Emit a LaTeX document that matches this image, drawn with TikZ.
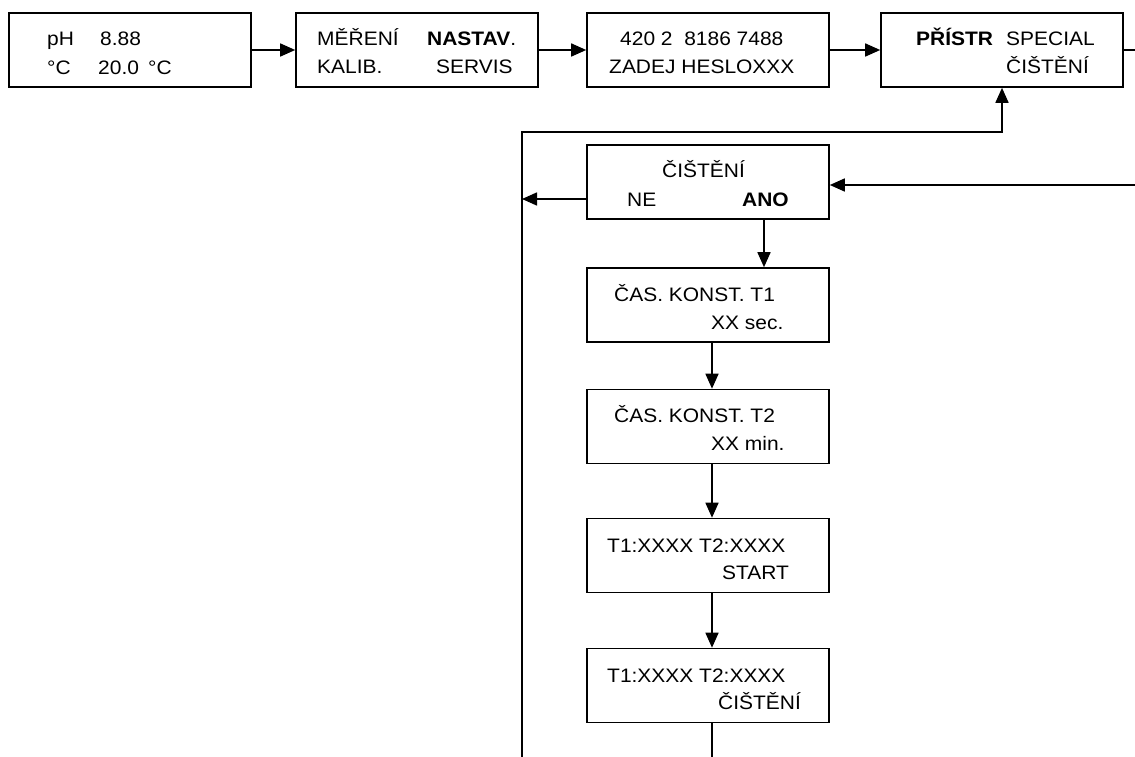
\documentclass[tikz,border=0pt]{standalone}
\usepackage{fontspec}
\setmainfont{Liberation Sans}[FakeStretch=1.075]
\usetikzlibrary{arrows.meta}
\begin{document}
\begin{tikzpicture}[x=1pt,y=-1pt,
  box/.style={draw,line width=1.6pt,minimum width=242pt,minimum height=74pt,inner sep=0pt},
  txt/.style={inner sep=0pt,anchor=base west,font=\fontsize{19.5}{23}\selectfont},
  conn/.style={line width=1.6pt},
  arr/.style={conn,-{Triangle[length=15pt,width=13pt]}}]
\useasboundingbox (0,0) rectangle (1135,757);
% top row boxes
\node[box] (b1) at (130,50) {};
\node[box] (b2) at (417,50) {};
\node[box] (b3) at (708,50) {};
\node[box] (b4) at (1002,50) {};
% column boxes
\node[box] (c1) at (708,182) {};
\node[box] (c2) at (708,305) {};
\node[box] (c3) at (708,426.5) {};
\node[box] (c4) at (708,555.5) {};
\node[box] (c5) at (708,685.5) {};
% texts
\node[txt] (t1a) at (47,46) {pH};
\node[txt] (t1b) at (100,46) {8.88};
\node[txt] (t1c) at (47,75) {°C};
\node[txt] (t1d) at (98,75) {20.0};
\node[txt] (t1e) at (148,75) {°C};
\node[txt] (t2a) at (317,46) {MĚŘENÍ};
\node[txt] (t2b) at (427,46) {\textbf{NASTAV}.};
\node[txt] (t2c) at (317,74) {KALIB.};
\node[txt] (t2d) at (436,74) {SERVIS};
\node[txt] (t3a) at (620,46) {420 2\ \ 8186 7488};
\node[txt] (t3b) at (609,74) {ZADEJ HESLOXXX};
\node[txt] (t4a) at (916,46) {\textbf{PŘÍSTR}};
\node[txt] (t4b) at (1006,46) {SPECIAL};
\node[txt] (t4c) at (1006,74) {ČIŠTĚNÍ};
\node[txt] (tc1a) at (662,178) {ČIŠTĚNÍ};
\node[txt] (tc1b) at (627,206) {NE};
\node[txt] (tc1c) at (742,206) {\textbf{ANO}};
\node[txt] (tc2a) at (614,301) {ČAS. KONST. T1};
\node[txt] (tc2b) at (711,329) {XX sec.};
\node[txt] (tc3a) at (614,422.5) {ČAS. KONST. T2};
\node[txt] (tc3b) at (711,450.5) {XX min.};
\node[txt] (tc4a) at (607,552) {T1:XXXX T2:XXXX};
\node[txt] (tc4b) at (722,579) {START};
\node[txt] (tc5a) at (607,682) {T1:XXXX T2:XXXX};
\node[txt] (tc5b) at (718,709) {ČIŠTĚNÍ};
% free ends
\coordinate (rOut) at (1135,50);
\coordinate (rIn) at (1135,185);
\coordinate (lTop) at (522,132);
\coordinate (lBot) at (522,757);
\coordinate (cBot) at (712,757);
% connectors top row
\draw[arr] (b1) -- (b2);
\draw[arr] (b2) -- (b3);
\draw[arr] (b3) -- (b4);
\draw[conn] (b4.east) -- (rOut);
% loop back
\draw[arr] (rIn) -- (rIn -| c1.east);
\draw[arr] (lBot) -- (lTop) -| (b4.south);
\draw[arr] ([yshift=-17pt]c1.west) -- ([yshift=-17pt]c1.west -| lTop);
% column
\draw[arr] ([xshift=56pt]c1.south) -- ([xshift=56pt]c1.south |- c2.north);
\draw[arr] ([xshift=4pt]c2.south) -- ([xshift=4pt]c2.south |- c3.north);
\draw[arr] ([xshift=4pt]c3.south) -- ([xshift=4pt]c3.south |- c4.north);
\draw[arr] ([xshift=4pt]c4.south) -- ([xshift=4pt]c4.south |- c5.north);
\draw[conn] ([xshift=4pt]c5.south) -- (cBot);
\end{tikzpicture}
\end{document}
